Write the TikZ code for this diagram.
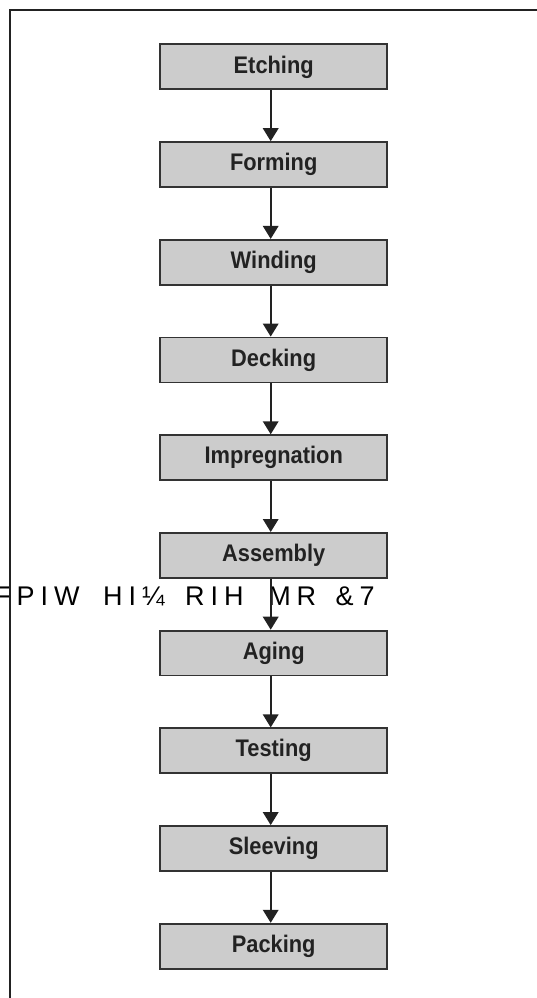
\documentclass[tikz,border=0pt]{standalone}
\usepackage{fontspec}
\setmainfont{Liberation Sans}
\newfontfamily\boxfont[FakeStretch=0.91]{Liberation Sans}
\newfontfamily\garbfont[LetterSpace=22.2]{Liberation Sans}
\usetikzlibrary{arrows.meta}
\definecolor{boxfill}{HTML}{CCCCCC}
\definecolor{boxline}{HTML}{333333}
\definecolor{ink}{HTML}{222222}
\tikzset{
  stepbox/.style={draw=boxline, line width=1.8pt, fill=boxfill,
    minimum width=227.2pt, minimum height=44.9pt, inner sep=0pt,
    text=ink, font=\boxfont\bfseries\fontsize{24pt}{28pt}\selectfont},
  flow/.style={draw=ink, line width=1.8pt, -{Triangle[length=13pt,width=15.5pt]}},
  frameline/.style={draw=ink, line width=2pt},
  garb/.style={inner sep=0pt, anchor=base west, text=black,
    font=\garbfont\fontsize{27pt}{31pt}\selectfont}
}
\begin{document}
\begin{tikzpicture}[x=1pt,y=-1pt]
\useasboundingbox (0,0) rectangle (537,998);
\foreach \name/\label [count=\i from 0] in {etch/Etching, form/Forming, wind/Winding, deck/Decking, impr/Impregnation, asse/Assembly, agin/Aging, test/Testing, slee/Sleeving, pack/Packing}{
  \node[stepbox] (\name) at (273.7, 66.85+97.7*\i) {\label};
}
\node[garb] (garbled) at (-6,605) {FPIW\hspace{23.5pt}HI¼\hspace{20.4pt}RIH\hspace{24.7pt}MR\hspace{19.5pt}\&7};
\foreach \a/\b in {etch/form, form/wind, wind/deck, deck/impr, impr/asse, asse/agin, agin/test, test/slee, slee/pack}{
  \draw[flow] ([xshift=-3pt]\a.south) -- ([xshift=-3pt]\b.north);
}
\draw[frameline] (9.6,1005) -- (9.6,9.6) -- (545,9.6);
\end{tikzpicture}
\end{document}
